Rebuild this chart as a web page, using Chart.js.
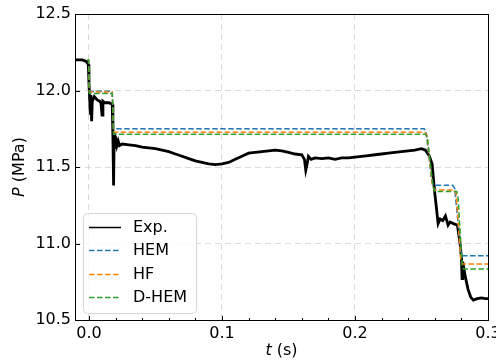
<!doctype html>
<html lang="en">
<head>
<meta charset="utf-8">
<title>Pressure history</title>
<script src="https://cdn.jsdelivr.net/npm/chart.js@4"></script>
<style>
  html, body { margin: 0; padding: 0; background: #fff; }
  #wrap { width: 496px; height: 362px; }
</style>
</head>
<body>
<div id="wrap"><canvas id="chart" width="496" height="362"></canvas></div>
<script>
// series
const seriesNames = ['Exp.', 'HEM', 'HF', 'D-HEM'];
const seriesColors = ['#000000', '#1f77b4', '#ff7f0e', '#2ca02c'];

// experiment (t in s, P in MPa)
const expT = [-0.0105, -0.005, -0.002, -0.0005, 0.0, 0.0005, 0.001, 0.0015, 0.002, 0.0025, 0.004, 0.006, 0.008, 0.009, 0.0098, 0.0105, 0.012, 0.015, 0.0175,
  0.018, 0.0185, 0.019, 0.0195, 0.020, 0.021, 0.022, 0.023, 0.025, 0.03, 0.035, 0.04, 0.045, 0.05, 0.055, 0.06, 0.065, 0.07, 0.075, 0.08, 0.085, 0.09, 0.095,
  0.10, 0.105, 0.11, 0.115, 0.12, 0.125, 0.13, 0.135, 0.14, 0.145, 0.15, 0.155, 0.16, 0.162, 0.163, 0.164, 0.165, 0.167, 0.17, 0.175, 0.18, 0.185, 0.19, 0.195,
  0.20, 0.205, 0.21, 0.215, 0.22, 0.225, 0.23, 0.235, 0.24, 0.245, 0.25, 0.253, 0.256, 0.258, 0.259, 0.260, 0.261, 0.2625, 0.264, 0.266, 0.268, 0.270, 0.2715,
  0.274, 0.277, 0.279, 0.280, 0.2805, 0.281, 0.283, 0.285, 0.287, 0.289, 0.292, 0.295, 0.298, 0.30];
const expP = [12.20, 12.20, 12.19, 12.17, 12.05, 11.95, 11.85, 11.97, 11.80, 11.93, 11.96, 11.94, 11.93, 11.92, 11.84, 11.93, 11.92, 11.92, 11.91,
  11.70, 11.38, 11.72, 11.62, 11.70, 11.64, 11.67, 11.64, 11.65, 11.645, 11.64, 11.63, 11.625, 11.62, 11.61, 11.60, 11.585, 11.57, 11.555, 11.54, 11.53, 11.52, 11.515,
  11.52, 11.53, 11.55, 11.57, 11.59, 11.595, 11.60, 11.605, 11.61, 11.605, 11.595, 11.585, 11.58, 11.55, 11.48, 11.52, 11.57, 11.55, 11.56, 11.555, 11.56, 11.55, 11.56, 11.56,
  11.565, 11.57, 11.575, 11.58, 11.585, 11.59, 11.595, 11.60, 11.605, 11.61, 11.62, 11.61, 11.57, 11.52, 11.42, 11.33, 11.25, 11.13, 11.16, 11.15, 11.18, 11.12, 11.14,
  11.13, 11.12, 11.00, 10.91, 10.77, 10.88, 10.78, 10.70, 10.65, 10.63, 10.64, 10.645, 10.64, 10.64];

// models
const hemT = [-0.0015, -0.0003, 0.0003, 0.0175, 0.0185, 0.252, 0.2535, 0.2575, 0.259, 0.2735, 0.275, 0.2795, 0.281, 0.30];
const hemP = [12.20, 12.20, 11.995, 11.995, 11.75, 11.75, 11.73, 11.42, 11.38, 11.38, 11.36, 10.95, 10.92, 10.92];
const hfT = [-0.0015, -0.0003, 0.0003, 0.0175, 0.0185, 0.2525, 0.254, 0.258, 0.2595, 0.2745, 0.276, 0.2795, 0.281, 0.30];
const hfP = [12.20, 12.20, 11.99, 11.99, 11.727, 11.727, 11.71, 11.39, 11.35, 11.35, 11.33, 10.90, 10.866, 10.866];
const dhemT = [-0.0015, -0.0003, 0.0003, 0.0175, 0.0185, 0.253, 0.2545, 0.2585, 0.26, 0.2765, 0.2775, 0.2805, 0.2815, 0.30];
const dhemP = [12.20, 12.20, 11.98, 11.98, 11.714, 11.714, 11.69, 11.38, 11.34, 11.34, 11.30, 10.86, 10.834, 10.834];

// axes
const xTicks = [0, 0.1, 0.2, 0.3];
const xMinorTicks = [0.02, 0.04, 0.06, 0.08, 0.12, 0.14, 0.16, 0.18, 0.22, 0.24, 0.26, 0.28];
const yTicks = [10.5, 11.0, 11.5, 12.0, 12.5];

const FONT = "'DejaVu Sans', sans-serif";

function pts(ts, ps) {
  return ts.map((t, i) => ({ x: t, y: ps[i] }));
}

const datasets = [
  { label: seriesNames[0], data: pts(expT, expP), borderColor: seriesColors[0], borderWidth: 2.8, order: 4 },
  { label: seriesNames[1], data: pts(hemT, hemP), borderColor: seriesColors[1], borderWidth: 1.5, borderDash: [5.5, 2.5], order: 3 },
  { label: seriesNames[2], data: pts(hfT, hfP), borderColor: seriesColors[2], borderWidth: 1.5, borderDash: [5.5, 2.5], order: 2 },
  { label: seriesNames[3], data: pts(dhemT, dhemP), borderColor: seriesColors[3], borderWidth: 1.5, borderDash: [5.5, 2.5], order: 1 }
];
datasets.forEach(d => { d.pointRadius = 0; d.tension = 0; d.fill = false; });

// frame, inward ticks, axis titles and legend box
const decorations = {
  id: 'decorations',
  afterDraw(chart) {
    const ctx = chart.ctx;
    const a = chart.chartArea;
    const xs = chart.scales.x, ys = chart.scales.y;
    ctx.save();
    ctx.strokeStyle = '#000';
    ctx.lineWidth = 1;
    ctx.strokeRect(Math.round(a.left) + 0.5, Math.round(a.top) + 0.5, Math.round(a.right - a.left), Math.round(a.bottom - a.top));

    const b = Math.round(a.bottom) + 0.5;
    ctx.beginPath();
    xTicks.forEach(v => { const px = Math.round(xs.getPixelForValue(v)) + 0.5; ctx.moveTo(px, b); ctx.lineTo(px, b - 4.5); });
    xMinorTicks.forEach(v => { const px = Math.round(xs.getPixelForValue(v)) + 0.5; ctx.moveTo(px, b); ctx.lineTo(px, b - 2.5); });
    const l = Math.round(a.left) + 0.5;
    yTicks.forEach(v => { const py = Math.round(ys.getPixelForValue(v)) + 0.5; ctx.moveTo(l, py); ctx.lineTo(l + 4.5, py); });
    ctx.stroke();

    // axis titles
    ctx.fillStyle = '#000';
    ctx.textBaseline = 'middle';
    ctx.font = 'italic 16px ' + FONT;
    const tW = ctx.measureText('t').width;
    ctx.font = '16px ' + FONT;
    const restX = ' (s)';
    const rW = ctx.measureText(restX).width;
    const cx = (a.left + a.right) / 2;
    let x0 = cx - (tW + rW) / 2;
    ctx.font = 'italic 16px ' + FONT;
    ctx.textAlign = 'left';
    ctx.fillText('t', x0, 351);
    ctx.font = '16px ' + FONT;
    ctx.fillText(restX, x0 + tW, 351);

    ctx.save();
    ctx.translate(20, (a.top + a.bottom) / 2);
    ctx.rotate(-Math.PI / 2);
    ctx.font = 'italic 16px ' + FONT;
    const pW = ctx.measureText('P').width;
    ctx.font = '16px ' + FONT;
    const restY = ' (MPa)';
    const mW = ctx.measureText(restY).width;
    x0 = -(pW + mW) / 2;
    ctx.font = 'italic 16px ' + FONT;
    ctx.fillText('P', x0, 0);
    ctx.font = '16px ' + FONT;
    ctx.fillText(restY, x0 + pW, 0);
    ctx.restore();

    // legend
    const lx = 83, ly = 213, lw = 113, lh = 100;
    ctx.beginPath();
    ctx.roundRect(lx + 0.5, ly + 0.5, lw, lh, 4);
    ctx.fillStyle = 'rgba(255,255,255,0.8)';
    ctx.fill();
    ctx.strokeStyle = '#d6d6d6';
    ctx.lineWidth = 1;
    ctx.stroke();
    chart.data.datasets.forEach((d, i) => {
      const y = ly + 14 + i * 23.3;
      ctx.beginPath();
      ctx.setLineDash(d.borderDash || []);
      ctx.strokeStyle = d.borderColor;
      ctx.lineWidth = 1.5;
      ctx.moveTo(89, Math.round(y) + 0.5);
      ctx.lineTo(121, Math.round(y) + 0.5);
      ctx.stroke();
      ctx.setLineDash([]);
      ctx.fillStyle = '#000';
      ctx.font = '16px ' + FONT;
      ctx.textAlign = 'left';
      ctx.textBaseline = 'middle';
      ctx.fillText(d.label, 133, y + 1);
    });
    ctx.restore();
  }
};

new Chart(document.getElementById('chart'), {
  type: 'line',
  data: { datasets: datasets },
  plugins: [decorations],
  options: {
    responsive: false,
    animation: false,
    devicePixelRatio: 1,
    layout: { padding: { left: 0, right: 8, top: 14, bottom: 0 }, autoPadding: false },
    plugins: { legend: { display: false }, tooltip: { enabled: false } },
    scales: {
      x: {
        type: 'linear',
        min: -0.0105,
        max: 0.3,
        afterBuildTicks: s => { s.ticks = xTicks.map(v => ({ value: v })); },
        afterFit: s => { s.height = 42; s.paddingLeft = 0; s.paddingRight = 0; },
        ticks: {
          autoSkip: false,
          maxRotation: 0,
          padding: 4,
          color: '#000',
          font: { family: FONT, size: 16 },
          callback: v => v.toFixed(1)
        },
        grid: { color: 'rgba(176,176,176,0.45)', lineWidth: 1, drawTicks: false },
        border: { display: false, dash: [6, 4] }
      },
      y: {
        type: 'linear',
        min: 10.5,
        max: 12.5,
        afterBuildTicks: s => { s.ticks = yTicks.map(v => ({ value: v })); },
        afterFit: s => { s.width = 75; s.paddingTop = 0; s.paddingBottom = 0; },
        ticks: {
          padding: 4,
          color: '#000',
          font: { family: FONT, size: 16 },
          callback: v => v.toFixed(1)
        },
        grid: { color: 'rgba(176,176,176,0.45)', lineWidth: 1, drawTicks: false },
        border: { display: false, dash: [6, 4] }
      }
    }
  }
});
</script>
</body>
</html>
